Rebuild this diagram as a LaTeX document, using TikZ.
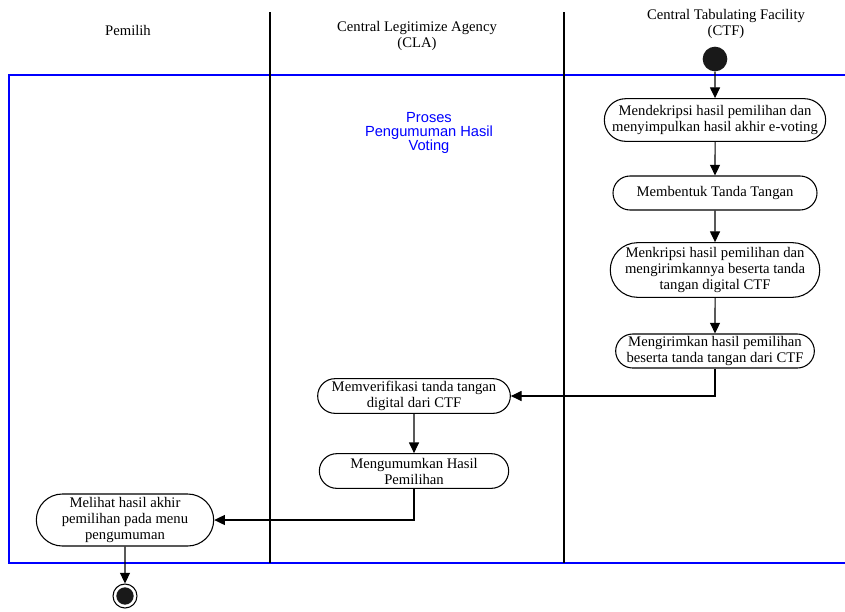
\documentclass[tikz,border=0pt]{standalone}
\usepackage{fontspec}
\setmainfont{Liberation Serif}
\setsansfont{Liberation Sans}
\usetikzlibrary{shapes.misc,arrows.meta,positioning}

\begin{document}
\begin{tikzpicture}[x=0.75pt, y=-0.75pt, auto, font=\fontsize{11}{12}\selectfont]

% Define styles
\tikzstyle{activity} = [rounded rectangle, draw, line width=0.8pt, align=center, inner xsep=2pt, inner ysep=0pt]
\tikzstyle{arrow} = [line width=0.8pt, ->, >={Triangle[length=8pt, width=7.5pt]}]
\tikzstyle{lane} = [line width=1.3pt]
\tikzstyle{lanehead} = [align=center]
\tikzstyle{startdot} = [circle, fill=black!90, minimum size=18.5pt, inner sep=0pt]

\useasboundingbox (0,0) rectangle (845,611);

% Swimlanes
\draw [blue, line width=1.1pt] (9,75) rectangle (848,563);
\draw [lane] (270,12) -- (270,563);
\draw [lane] (564,12) -- (564,563);

\node [lanehead] (pemilih) at (128,30) {Pemilih};
\node [lanehead] (cla) at (417,36) {Central Legitimize Agency\\(CLA)};
\node [lanehead] (ctf) at (726,24) {Central Tabulating Facility\\(CTF)};

\node [blue, align=center, font=\sffamily\fontsize{11}{10.8}\selectfont] (proses) at (429,133) {Proses\\Pengumuman Hasil\\Voting};

% Nodes
\node [startdot] (start) at (715,59) {};
\node [activity, minimum width=170pt, minimum height=32pt, below of=start, node distance=45.75pt] (dekripsi) {Mendekripsi hasil pemilihan dan\\menyimpulkan hasil akhir e-voting};
\node [activity, minimum width=157pt, minimum height=25.5pt, below of=dekripsi, node distance=54.75pt] (ttd) {Membentuk Tanda Tangan};
\node [activity, minimum width=156pt, minimum height=41pt, below of=ttd, node distance=57.75pt] (enkripsi) {Menkripsi hasil pemilihan dan\\mengirimkannya beserta tanda\\tangan digital CTF};
\node [activity, minimum width=153pt, minimum height=25.5pt, below of=enkripsi, node distance=60.75pt] (kirim) {Mengirimkan hasil pemilihan\\beserta tanda tangan dari CTF};

\node [activity, minimum width=148.5pt, minimum height=26pt] (verifikasi) at (414,396) {Memverifikasi tanda tangan\\digital dari CTF};
\node [activity, minimum width=146pt, minimum height=26pt, below of=verifikasi, node distance=56.25pt] (umumkan) {Mengumumkan Hasil\\Pemilihan};

\node [activity, minimum width=137pt, minimum height=39pt] (lihat) at (125,520) {Melihat hasil akhir\\pemilihan pada menu\\pengumuman};
\node [circle, draw, line width=0.8pt, minimum size=18pt, inner sep=0pt, below of=lihat, node distance=57pt] (end) {};
\node [circle, fill=black!90, minimum size=13pt, inner sep=0pt] at (end) {};

% Arrows
\draw [arrow] (start) -- (dekripsi);
\draw [arrow] (dekripsi) -- (ttd);
\draw [arrow] (ttd) -- (enkripsi);
\draw [arrow] (enkripsi) -- (kirim);
\draw [arrow] (kirim) |- (verifikasi);
\draw [arrow] (verifikasi) -- (umumkan);
\draw [arrow] (umumkan) |- (lihat);
\draw [arrow] (lihat) -- (end);

\end{tikzpicture}
\end{document}
